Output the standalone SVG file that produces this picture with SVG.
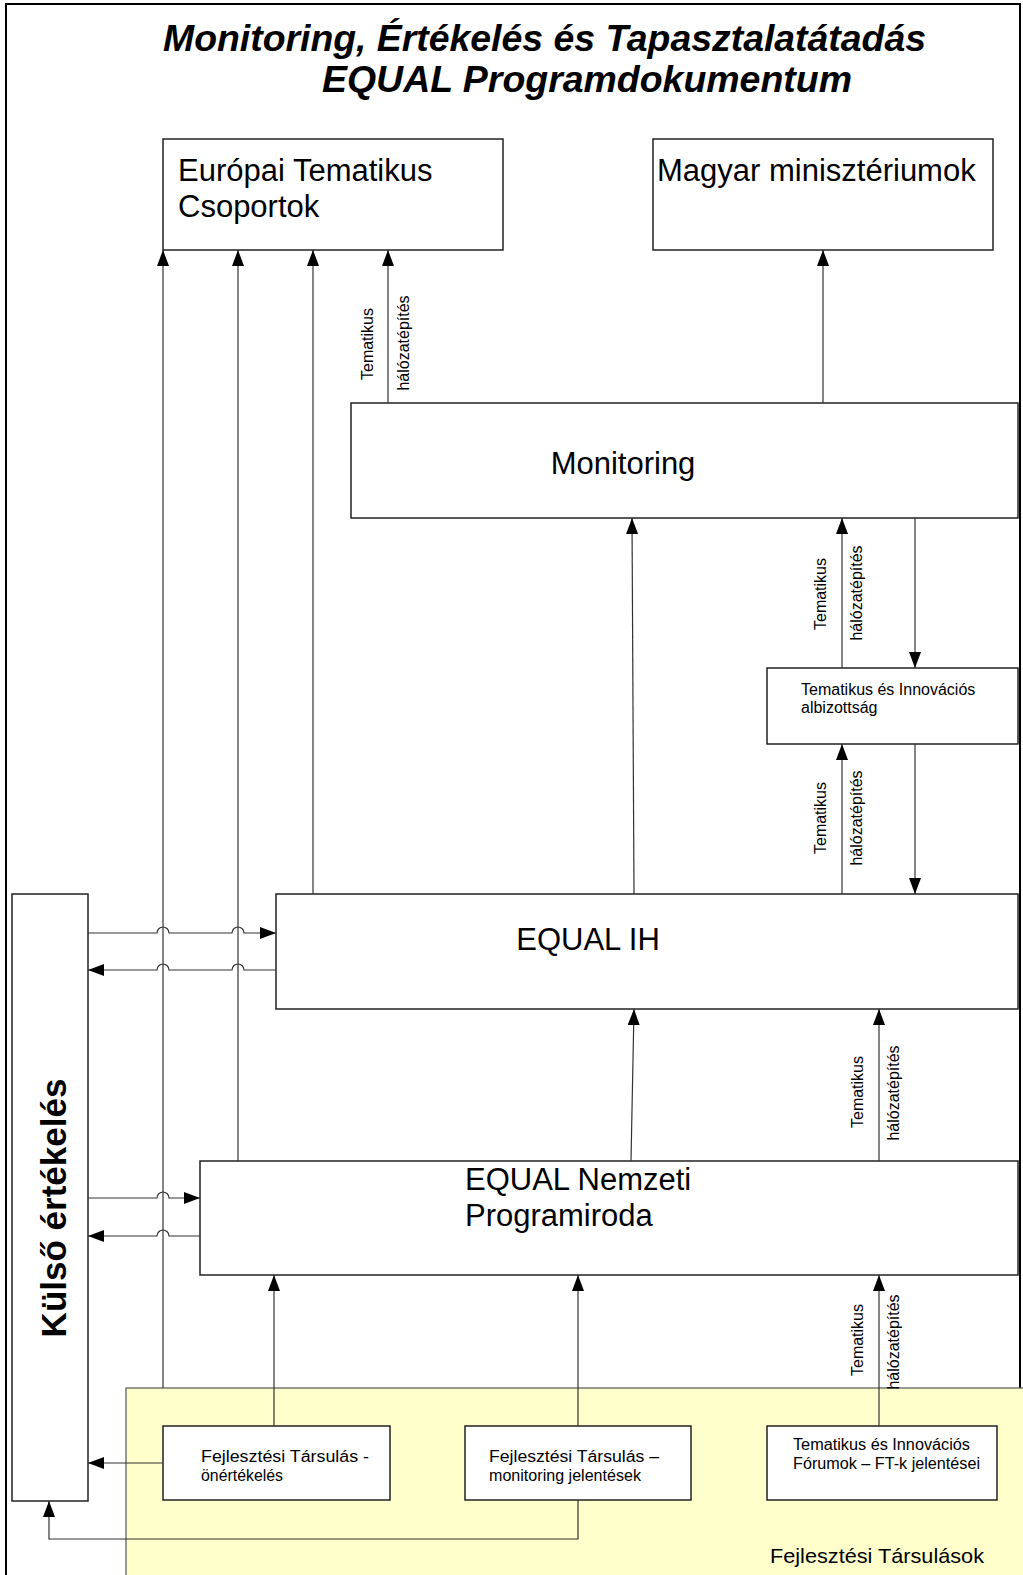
<svg xmlns="http://www.w3.org/2000/svg" width="1023" height="1575" viewBox="0 0 1023 1575">
<style>
.box{fill:#fff;stroke:#222;stroke-width:1.5}
.c{fill:none;stroke:#333;stroke-width:1.2}
.t{font-family:"Liberation Sans",Arial,sans-serif;fill:#000}
.big{font-size:31px}
.mid{font-size:16px}
.lab{font-size:16px}
.sm{font-size:16px}
.title{font-size:36.5px;font-weight:bold;font-style:italic}
</style>
<defs>
<marker id="ah" viewBox="0 0 16 12" refX="16" refY="6" markerWidth="16" markerHeight="12" markerUnits="userSpaceOnUse" orient="auto">
<path d="M0,0 L16,6 L0,12 z" fill="#000"/>
</marker>
</defs>
<rect x="0" y="0" width="1023" height="1575" fill="#fff"/>
<rect id="frame" x="6" y="4" width="1014" height="1580" fill="none" stroke="#000" stroke-width="2"/>
<g id="title">
<text class="t title" x="163" y="51" textLength="763" lengthAdjust="spacingAndGlyphs">Monitoring, Értékelés és Tapasztalatátadás</text>
<text class="t title" x="322" y="92" textLength="530" lengthAdjust="spacingAndGlyphs">EQUAL Programdokumentum</text>
</g>
<g id="fejlesztesi-tarsulasok">
<rect x="126" y="1388" width="900" height="200" fill="#FFFFCC" stroke="#555" stroke-width="1.2"/>
<text class="t" x="770" y="1563" font-size="21" textLength="214" lengthAdjust="spacingAndGlyphs">Fejlesztési Társulások</text>
</g>
<g id="europai">
<rect class="box" x="163" y="139" width="340" height="111"/>
<text class="t big" x="178" y="181">Európai Tematikus</text>
<text class="t big" x="178" y="217">Csoportok</text>
</g>
<g id="magyar">
<rect class="box" x="653" y="139" width="340" height="111"/>
<text class="t big" x="657" y="181">Magyar minisztériumok</text>
</g>
<g id="monitoring">
<rect class="box" x="351" y="403" width="667" height="115"/>
<text class="t big" x="623" y="474" text-anchor="middle">Monitoring</text>
</g>
<g id="albizottsag">
<rect class="box" x="767" y="668" width="251" height="76"/>
<text class="t mid" x="801" y="695">Tematikus és Innovációs</text>
<text class="t mid" x="801" y="713">albizottság</text>
</g>
<g id="equal-ih">
<rect class="box" x="276" y="894" width="742" height="115"/>
<text class="t big" x="588" y="950" text-anchor="middle">EQUAL IH</text>
</g>
<g id="equal-np">
<rect class="box" x="200" y="1161" width="818" height="114"/>
<text class="t big" x="465" y="1190">EQUAL Nemzeti</text>
<text class="t big" x="465" y="1226">Programiroda</text>
</g>
<g id="kulso">
<rect class="box" x="12" y="894" width="76" height="607"/>
<text class="t" x="66" y="1208" font-size="35" font-weight="bold" text-anchor="middle" transform="rotate(-90 66 1208)">Külső értékelés</text>
</g>
<g id="ft-onertekeles">
<rect class="box" x="163" y="1426" width="227" height="74"/>
<text class="t sm" x="201" y="1462" textLength="168" lengthAdjust="spacingAndGlyphs">Fejlesztési Társulás -</text>
<text class="t sm" x="201" y="1481" textLength="82" lengthAdjust="spacingAndGlyphs">önértékelés</text>
</g>
<g id="ft-monitoring">
<rect class="box" x="465" y="1426" width="226" height="74"/>
<text class="t sm" x="489" y="1462" textLength="170" lengthAdjust="spacingAndGlyphs">Fejlesztési Társulás –</text>
<text class="t sm" x="489" y="1481" textLength="152" lengthAdjust="spacingAndGlyphs">monitoring jelentések</text>
</g>
<g id="forumok">
<rect class="box" x="767" y="1426" width="230" height="74"/>
<text class="t sm" x="793" y="1450" textLength="177" lengthAdjust="spacingAndGlyphs">Tematikus és Innovációs</text>
<text class="t sm" x="793" y="1469" textLength="187" lengthAdjust="spacingAndGlyphs">Fórumok – FT-k jelentései</text>
</g>
<g id="connectors">
<path class="c" d="M163,1388 V250" marker-end="url(#ah)"/>
<path class="c" d="M238,1161 V250" marker-end="url(#ah)"/>
<path class="c" d="M313,894 V250" marker-end="url(#ah)"/>
<path class="c" d="M388,403 V250" marker-end="url(#ah)"/>
<path class="c" d="M823,403 V250" marker-end="url(#ah)"/>
<path class="c" d="M634,894 L632,518" marker-end="url(#ah)"/>
<path class="c" d="M842,668 V518" marker-end="url(#ah)"/>
<path class="c" d="M915,518 V668" marker-end="url(#ah)"/>
<path class="c" d="M842,894 V744" marker-end="url(#ah)"/>
<path class="c" d="M915,744 V894" marker-end="url(#ah)"/>
<path class="c" d="M631,1161 L634,1009" marker-end="url(#ah)"/>
<path class="c" d="M879,1161 V1009" marker-end="url(#ah)"/>
<path class="c" d="M274,1426 V1275" marker-end="url(#ah)"/>
<path class="c" d="M578,1426 V1275" marker-end="url(#ah)"/>
<path class="c" d="M879,1426 V1275" marker-end="url(#ah)"/>
<path class="c" d="M88,933 H157 a6,6 0 0 1 12,0 H232 a6,6 0 0 1 12,0 H276" marker-end="url(#ah)"/>
<path class="c" d="M276,970 H244 a6,6 0 0 0 -12,0 H169 a6,6 0 0 0 -12,0 H88" marker-end="url(#ah)"/>
<path class="c" d="M88,1198 H157 a6,6 0 0 1 12,0 H200" marker-end="url(#ah)"/>
<path class="c" d="M200,1236 H169 a6,6 0 0 0 -12,0 H88" marker-end="url(#ah)"/>
<path class="c" d="M163,1463 H88" marker-end="url(#ah)"/>
<path class="c" d="M578,1500 V1539 H49 V1501" marker-end="url(#ah)"/>
</g>
<g id="connector-labels">
<text class="t lab" x="373" y="344" text-anchor="middle" transform="rotate(-90 373 344)">Tematikus</text>
<text class="t lab" x="409" y="343" text-anchor="middle" transform="rotate(-90 409 343)">hálózatépítés</text>
<text class="t lab" x="826" y="594" text-anchor="middle" transform="rotate(-90 826 594)">Tematikus</text>
<text class="t lab" x="862" y="593" text-anchor="middle" transform="rotate(-90 862 593)">hálózatépítés</text>
<text class="t lab" x="826" y="818" text-anchor="middle" transform="rotate(-90 826 818)">Tematikus</text>
<text class="t lab" x="862" y="818" text-anchor="middle" transform="rotate(-90 862 818)">hálózatépítés</text>
<text class="t lab" x="863" y="1092" text-anchor="middle" transform="rotate(-90 863 1092)">Tematikus</text>
<text class="t lab" x="899" y="1093" text-anchor="middle" transform="rotate(-90 899 1093)">hálózatépítés</text>
<text class="t lab" x="863" y="1340" text-anchor="middle" transform="rotate(-90 863 1340)">Tematikus</text>
<text class="t lab" x="899" y="1342" text-anchor="middle" transform="rotate(-90 899 1342)">hálózatépítés</text>
</g>
</svg>
